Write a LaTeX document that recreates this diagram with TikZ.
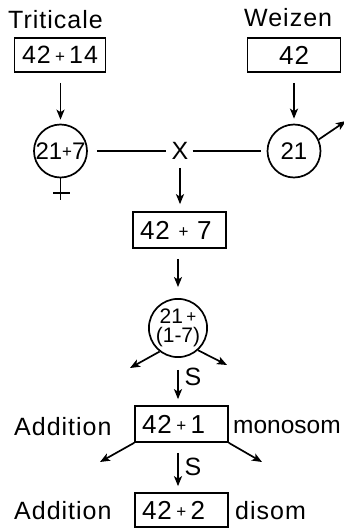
\documentclass[tikz,border=0pt]{standalone}
\usepackage{fontspec}
\setmainfont{Liberation Sans}[LetterSpace=4]
\newfontfamily\tightfont{Liberation Sans}
\usetikzlibrary{arrows.meta}
\newcommand\pls{\raisebox{1.5pt}{\fontsize{17}{17}\selectfont +}}
\begin{document}
\begin{tikzpicture}[x=1pt,y=-1pt,
  lbl/.style={font=\fontsize{25}{27}\selectfont, inner sep=0},
  boxn/.style={draw, line width=1.7pt, minimum height=34pt, inner ysep=0pt,
    inner xsep=7pt, text width=79pt, align=left, font=\fontsize{26}{28}\selectfont},
  circ/.style={circle, draw, line width=1.7pt, minimum size=53pt, inner sep=0pt,
    font=\tightfont\fontsize{24}{24}\selectfont},
  arr/.style={-{Stealth[length=10pt,width=8pt,inset=2.5pt]}, line width=1.7pt},
  ln/.style={line width=1.7pt}]
\useasboundingbox (0,0) rectangle (344,530);
% labels
\node[lbl, anchor=base west] (tri) at (8,28) {Triticale};
\node[lbl, anchor=base west] (wei) at (244,27) {Weizen};
% boxes
\node[boxn, inner xsep=3pt, text width=85pt, align=center, font=\fontsize{25}{28}\selectfont] (b1) at (60,55) {42\,\pls\,14};
\node[boxn, align=center] (b2) at (294,55) {42};
% circles
\node[circ] (c1) at (60.5,151) {21\pls7};
\node[circ] (c2) at (294,151) {21};
\node[lbl] (x) at (180,151) {X};
\node[boxn, minimum height=36pt] (b3) at (179.5,230) {42 \pls{} 7};
\node[circ, align=center, font=\tightfont\fontsize{21}{19}\selectfont] (c3) at (178,328) {21\,\pls\\(1-7)};
\node[boxn, minimum height=36pt] (b4) at (181.5,424) {42\,\pls\,1};
\node[boxn] (b5) at (181.5,510) {42\,\pls\,2};
% side labels
\node[lbl, anchor=base west] (ad1) at (14,435) {Addition};
\node[lbl, anchor=base west, font=\tightfont\fontsize{24.5}{27}\selectfont] (mono) at (233,433) {monosom};
\node[lbl, anchor=base west] (ad2) at (14,519) {Addition};
\node[lbl, anchor=base west] (di) at (235,519) {disom};
% S labels
\node[lbl] (s1) at (193,377) {S};
\node[lbl] (s2) at (193,467) {S};
% coordinates
\coordinate (fe) at (60.5,200);
\coordinate (fl) at (53,193);
\coordinate (fr) at (70,193);
\coordinate (ma) at (346,121);
\coordinate (cl) at (130,368);
\coordinate (cr) at (227,365);
\coordinate (bl) at (100,462);
\coordinate (br) at (262,462);
% connectors
\draw[arr, shorten <=10pt, shorten >=4pt] (b1.south -| c1) -- (c1.north);
\draw[arr, shorten <=10pt, shorten >=5pt] (b2.south) -- (c2.north);
\draw[ln] (c1.south) -- (fe);
\draw[ln] (fl) -- (fr);
\draw[arr] (c2.25) -- (ma);
\draw[ln, shorten <=9pt, shorten >=5pt] (c1.east) -- (x.west);
\draw[ln, shorten <=4pt, shorten >=6pt] (x.east) -- (c2.west);
\draw[arr, shorten <=8pt, shorten >=7pt] (x.south) -- (x.south |- b3.north);
\draw[arr, shorten <=10pt, shorten >=11pt] (b3.south -| c3) -- (c3.north);
\draw[arr] (c3.232) -- (cl);
\draw[arr] (c3.-48) -- (cr);
\draw[arr, shorten <=12pt, shorten >=6pt] (c3.south) -- (c3.south |- b4.north);
\draw[arr] (b4.south west) -- (bl);
\draw[arr] (b4.south east) -- (br);
\draw[arr, shorten <=10pt, shorten >=6pt] (b4.south -| c3) -- (c3 |- b5.north);
\end{tikzpicture}
\end{document}
